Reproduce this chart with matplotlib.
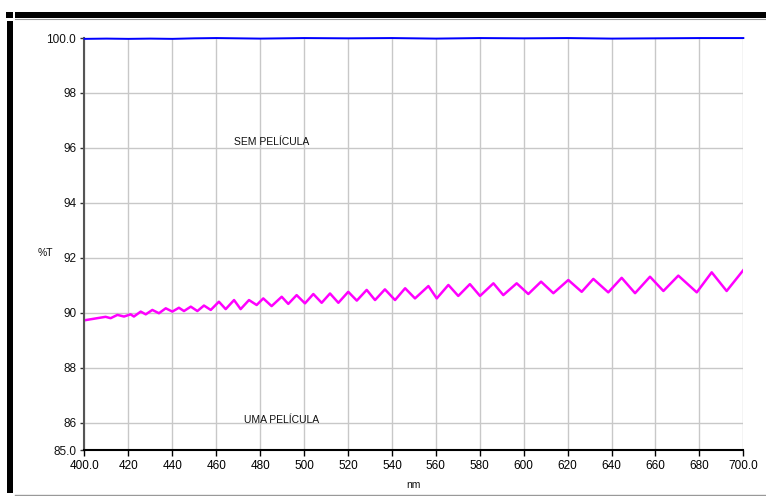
import matplotlib
matplotlib.use('Agg')
import matplotlib.pyplot as plt
from matplotlib.patches import Rectangle
from matplotlib.lines import Line2D

plt.rcParams['font.family'] = ['Liberation Sans', 'DejaVu Sans']

# curva "SEM PELÍCULA" (azul), praticamente em 100 %T
sem_nm = [400, 410, 420, 430, 440, 450, 460, 480, 500, 520, 540, 560, 580, 600, 620, 640, 660, 680, 700]
sem_t = [99.97, 99.98, 99.97, 99.98, 99.97, 99.99, 100.0, 99.98, 100.0, 99.99, 100.0, 99.98,
         100.0, 99.99, 100.0, 99.98, 99.99, 100.0, 100.0]

# curva "UMA PELÍCULA" (magenta), picos e vales
uma_nm = [400.5, 405.8, 409.6, 411.9, 415, 418, 421, 422.5, 425.6, 427.9, 430.9, 433.9,
          437, 440, 443, 445.3, 448.4, 451.4, 454.4, 457.5, 461.2, 464.3, 468.1, 471.1,
          474.9, 478.4, 481.4, 485.2, 489.8, 492.8, 496.6, 500.4, 504.2, 508, 511.8, 515.6,
          520.1, 524, 528.5, 532.3, 536.8, 541.4, 546, 550.5, 556.6, 560.4, 565.7, 570.2,
          575.5, 580.1, 586.2, 590.7, 596.8, 602.1, 607.9, 613.5, 620.3, 626.4, 631.7, 638.5,
          644.6, 650.7, 657.5, 663.6, 670.4, 678.8, 685.6, 692.4, 700]
uma_t = [89.73, 89.8, 89.85, 89.8, 89.92, 89.86, 89.94, 89.86, 90.04, 89.94, 90.1, 89.98,
         90.16, 90.04, 90.18, 90.06, 90.22, 90.06, 90.26, 90.1, 90.4, 90.13, 90.46, 90.13,
         90.46, 90.28, 90.52, 90.24, 90.58, 90.32, 90.64, 90.34, 90.68, 90.36, 90.7, 90.36,
         90.76, 90.44, 90.83, 90.46, 90.85, 90.46, 90.89, 90.52, 90.97, 90.52, 91.01, 90.61,
         91.04, 90.61, 91.07, 90.64, 91.07, 90.68, 91.13, 90.71, 91.19, 90.76, 91.23, 90.74,
         91.27, 90.71, 91.31, 90.79, 91.35, 90.74, 91.47, 90.79, 91.55]

x_ticks = [400, 420, 440, 460, 480, 500, 520, 540, 560, 580, 600, 620, 640, 660, 680, 700]
x_labels = ['400.0'] + [str(v) for v in x_ticks[1:-1]] + ['700.0']
y_ticks = [85, 86, 88, 90, 92, 94, 96, 98, 100]
y_labels = ['85.0', '86', '88', '90', '92', '94', '96', '98', '100.0']

fig = plt.figure(figsize=(7.66, 4.96), dpi=100)
ax = fig.add_axes([0.1103, 0.0927, 0.8601, 0.8306])

ax.plot(uma_nm, uma_t, color='#ff00ff', linewidth=1.8, solid_joinstyle='round')
ax.plot(sem_nm, sem_t, color='#0000ff', linewidth=1.4, clip_on=False, zorder=5)

ax.set_xlim(400, 700)
ax.set_ylim(85, 100)
ax.set_xticks(x_ticks)
ax.set_xticklabels(x_labels)
ax.set_yticks(y_ticks)
ax.set_yticklabels(y_labels)
ax.tick_params(axis='both', labelsize=8.5, direction='out', length=3, width=1, pad=3,
               colors='#333333', labelcolor='#111111')
ax.tick_params(axis='x', length=4, colors='black')

ax.grid(True, color='#c8c8c8', linewidth=1)
ax.set_axisbelow(True)
for side in ['top', 'right']:
    ax.spines[side].set_visible(False)
ax.spines['left'].set_color('#555555')
ax.spines['left'].set_linewidth(1.5)
ax.spines['bottom'].set_color('black')
ax.spines['bottom'].set_linewidth(1.5)

ax.text(485.4, 96.2, 'SEM PELÍCULA', fontsize=7.5, ha='center', va='center', color='#111111')
ax.text(489.9, 86.1, 'UMA PELÍCULA', fontsize=7.5, ha='center', va='center', color='#111111')

fig.text(45 / 766, 1 - 253 / 496, '%T', fontsize=7.5, ha='center', va='center', color='#111111')
fig.text(413 / 766, 1 - 485 / 496, 'nm', fontsize=7.5, ha='center', va='center', color='#111111')

# moldura preta do relatório
fig.add_artist(Rectangle((6 / 766, 1 - 17.7 / 496), 7.3 / 766, 5.4 / 496,
                         transform=fig.transFigure, color='black', lw=0))
fig.add_artist(Rectangle((15.3 / 766, 1 - 17.7 / 496), 1, 5.4 / 496,
                         transform=fig.transFigure, color='black', lw=0))
fig.add_artist(Line2D([15.3 / 766, 1], [1 - 18.8 / 496] * 2, transform=fig.transFigure,
                      color='#999999', lw=0.8))
fig.add_artist(Rectangle((6.7 / 766, 1 - 493 / 496), 6.6 / 766, (493 - 20.7) / 496,
                         transform=fig.transFigure, color='black', lw=0))
fig.add_artist(Line2D([15 / 766, 1], [1.5 / 496] * 2, transform=fig.transFigure,
                      color='#999999', lw=1))

plt.savefig('out.png', dpi=100)
plt.close()
